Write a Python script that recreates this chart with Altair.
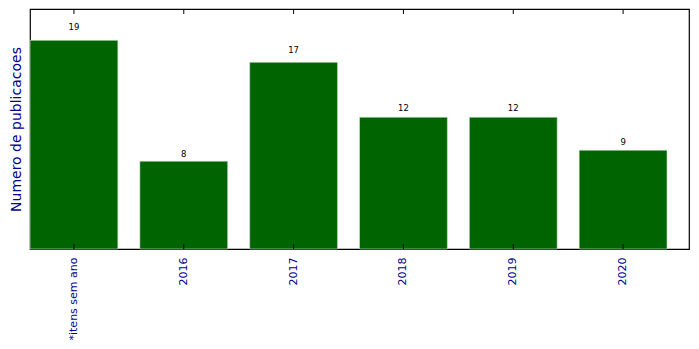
import altair as alt
import pandas as pd

categories = ["*itens sem ano", "2016", "2017", "2018", "2019", "2020"]
values = [19, 8, 17, 12, 12, 9]

df = pd.DataFrame({"cat": categories, "val": values})

xscale = alt.Scale(domain=categories, paddingInner=0.2, paddingOuter=0.1, align=0)
yscale = alt.Scale(domain=[0, 21.85], nice=False)

base = alt.Chart(df)

bars = base.mark_bar(color="#006400", stroke="#d8e8d8", strokeWidth=0.6).encode(
    x=alt.X("cat:N", scale=xscale, sort=categories,
            axis=alt.Axis(title=None, labelAngle=-90, labelColor="darkblue",
                          labelFont="DejaVu Sans", labelFontSize=11,
                          labelPadding=8, ticks=False, domain=False, labelAlign="right",
                          labelBaseline="middle")),
    y=alt.Y("val:Q", scale=yscale,
            axis=alt.Axis(title="Numero de publicacoes", titleColor="darkblue",
                          titleFont="DejaVu Sans", titleFontSize=14,
                          titleFontWeight="normal", titlePadding=7,
                          labels=False, ticks=False, domain=False, grid=False)),
)

texts = base.transform_calculate(lab_y="datum.val * 1.05").mark_text(
    font="DejaVu Sans", fontSize=8.5, color="black", baseline="alphabetic"
).encode(
    x=alt.X("cat:N", scale=xscale, sort=categories),
    y=alt.Y("lab_y:Q", scale=yscale),
    text="val:Q",
)

top_ticks = base.mark_rule(color="black", strokeWidth=1).encode(
    x=alt.X("cat:N", scale=xscale, sort=categories),
    y=alt.value(0),
    y2=alt.value(5),
)
bottom_ticks = base.mark_rule(color="black", strokeWidth=1).encode(
    x=alt.X("cat:N", scale=xscale, sort=categories),
    y=alt.value(235),
    y2=alt.value(240),
)

chart = alt.layer(bars, texts, top_ticks, bottom_ticks).properties(
    width=659, height=240,
    autosize=alt.AutoSizeParams(type="none"),
    padding={"left": 30, "top": 9, "right": 10, "bottom": 100},
    background="white",
).configure_view(stroke="black", strokeWidth=1.2)

chart.save("out.html", embed_options={"renderer": "svg", "actions": False})
